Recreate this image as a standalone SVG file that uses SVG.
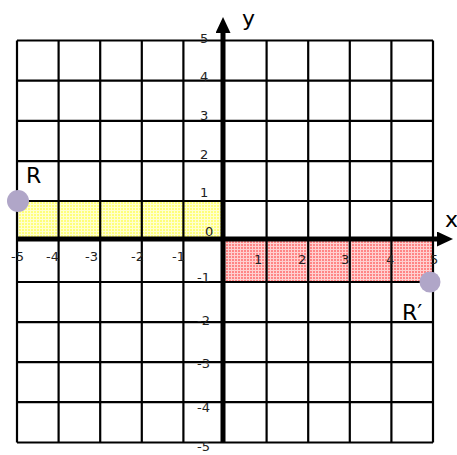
<svg xmlns="http://www.w3.org/2000/svg" width="457" height="455" viewBox="0 0 457 455">
<style>
.grid line{stroke:#000;stroke-width:2.2}
.axis{stroke:#000;stroke-width:5}
.tick{font-family:"DejaVu Sans",Verdana,sans-serif;font-size:13px;fill:#222}
.big{font-family:"DejaVu Sans",Verdana,sans-serif;font-size:22px;fill:#000}
.pt{fill:#b0a6c8}
</style>
<defs>
<pattern id="py" width="3" height="3" patternUnits="userSpaceOnUse">
<rect width="3" height="3" fill="#ffff7a"/>
<rect width="3" height="1" fill="#ffffd0"/>
<rect width="1" height="3" fill="#ffffd0"/>
</pattern>
<pattern id="pr" width="3" height="3" patternUnits="userSpaceOnUse">
<rect width="3" height="3" fill="#ff8585"/>
<rect width="3" height="1" fill="#ffd0d0"/>
<rect width="1" height="3" fill="#ffd0d0"/>
</pattern>
<marker id="ah" viewBox="0 0 16 15" refX="0" refY="7.5" markerWidth="16" markerHeight="15" markerUnits="userSpaceOnUse" orient="auto">
<path d="M0,0 L16,7.5 L0,15 Z" fill="#000"/>
</marker>
</defs>
<g id="regions">
<rect id="yellow" x="17" y="201" width="206" height="38" fill="url(#py)" stroke="#8a8a00" stroke-width="1" stroke-dasharray="1,1"/>
<rect id="red" x="223" y="241" width="210" height="41" fill="url(#pr)"/>
</g>
<g id="grid" class="grid">
<line x1="17" y1="40.5" x2="17" y2="442.5"/>
<line x1="58.6" y1="40.5" x2="58.6" y2="442.5"/>
<line x1="100.2" y1="40.5" x2="100.2" y2="442.5"/>
<line x1="141.8" y1="40.5" x2="141.8" y2="442.5"/>
<line x1="183.4" y1="40.5" x2="183.4" y2="442.5"/>
<line x1="266.6" y1="40.5" x2="266.6" y2="442.5"/>
<line x1="308.2" y1="40.5" x2="308.2" y2="442.5"/>
<line x1="349.8" y1="40.5" x2="349.8" y2="442.5"/>
<line x1="391.4" y1="40.5" x2="391.4" y2="442.5"/>
<line x1="433" y1="40.5" x2="433" y2="442.5"/>
<line x1="17" y1="40.5" x2="433" y2="40.5"/>
<line x1="17" y1="80.7" x2="433" y2="80.7"/>
<line x1="17" y1="120.9" x2="433" y2="120.9"/>
<line x1="17" y1="161.1" x2="433" y2="161.1"/>
<line x1="17" y1="201" x2="433" y2="201"/>
<line x1="17" y1="282" x2="433" y2="282"/>
<line x1="17" y1="322.2" x2="433" y2="322.2"/>
<line x1="17" y1="362.2" x2="433" y2="362.2"/>
<line x1="17" y1="402.2" x2="433" y2="402.2"/>
<line x1="17" y1="442.5" x2="433" y2="442.5"/>
</g>
<g id="connectors">
<line id="x-axis" class="axis" x1="17" y1="239" x2="437" y2="239" marker-end="url(#ah)"/>
<line id="y-axis" class="axis" x1="223" y1="442.5" x2="223" y2="33" marker-end="url(#ah)"/>
</g>
<g id="axis-labels">
<text class="big" x="242" y="26">y</text>
<text class="big" x="445" y="227">x</text>
</g>
<g id="y-ticks">
<text class="tick" x="200" y="43">5</text>
<text class="tick" x="200" y="81">4</text>
<text class="tick" x="200" y="120">3</text>
<text class="tick" x="200" y="159">2</text>
<text class="tick" x="200" y="197">1</text>
<text class="tick" x="205" y="236">0</text>
<text class="tick" x="197" y="282">-1</text>
<text class="tick" x="197" y="325">-2</text>
<text class="tick" x="197" y="368">-3</text>
<text class="tick" x="197" y="412">-4</text>
<text class="tick" x="197" y="451">-5</text>
</g>
<g id="x-ticks">
<text class="tick" x="11" y="261">-5</text>
<text class="tick" x="46" y="261">-4</text>
<text class="tick" x="85" y="261">-3</text>
<text class="tick" x="131" y="261">-2</text>
<text class="tick" x="172" y="261">-1</text>
<text class="tick" x="254" y="264">1</text>
<text class="tick" x="298" y="264">2</text>
<text class="tick" x="341" y="264">3</text>
<text class="tick" x="386" y="264">4</text>
<text class="tick" x="430" y="264">5</text>
</g>
<g id="R">
<circle class="pt" cx="18" cy="201" r="11"/>
<text class="big" x="26" y="183">R</text>
</g>
<g id="R-prime">
<circle class="pt" cx="430" cy="282" r="10.5"/>
<text class="big" x="402" y="320">R′</text>
</g>
</svg>
